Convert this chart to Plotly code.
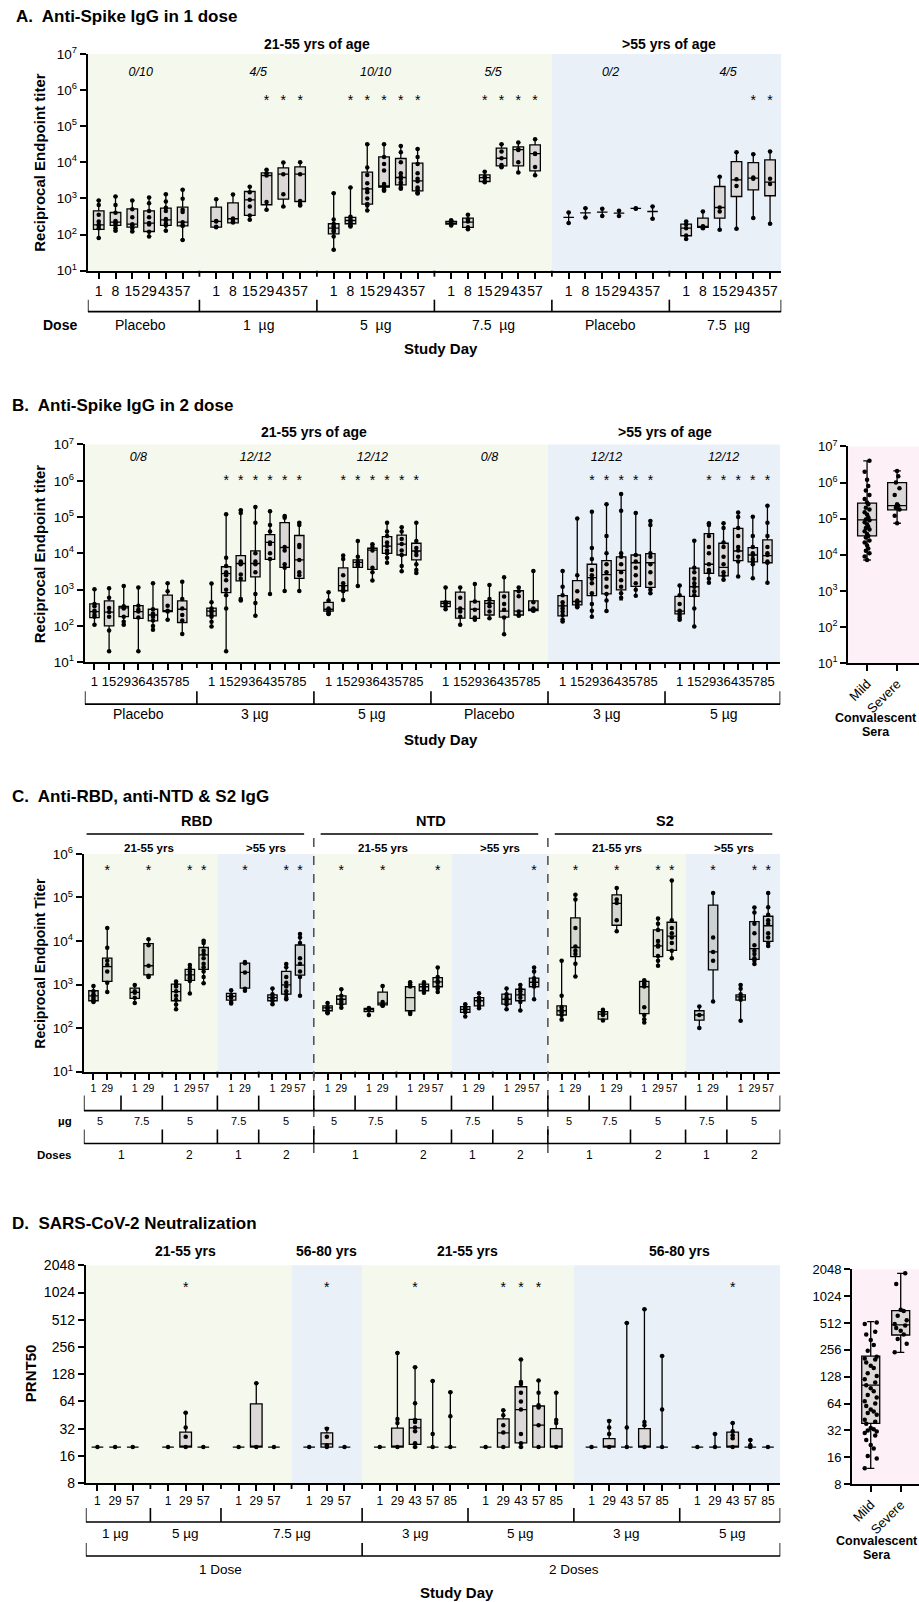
import math
import plotly.graph_objects as go

W, H = 919, 1602
FONT = "Liberation Sans, Arial, Helvetica, sans-serif"
GREEN = "#f5f8ec"
BLUE = "#eaf0f8"
PINK = "#fdf0f6"
BOX_FILL = "#dcd8d8"
BOX_FILL_C = "rgba(120,120,108,0.26)"
LOD = 20

# ======================= DATA =======================
# ---- Panel A: Anti-Spike IgG, 1 dose ----
A_days = ["1", "8", "15", "29", "43", "57"]
A_doses = ["Placebo", "1  µg", "5  µg", "7.5  µg", "Placebo", "7.5  µg"]
A_ratio = ["0/10", "4/5", "10/10", "5/5", "0/2", "4/5"]
A_ages = ["21-55 yrs of age", ">55 yrs of age"]
A_min = [80, 128, 122, 89, 128, 71,
         161, 212, 257, 486, 590, 640,
         38, 168, 466, 1630, 1850, 1375,
         179, 139, 2770, 7350, 5240, 4410,
         208, 299, 330, 330, 518, 275,
         75, 145, 136, 145, 286, 200]
A_q1 = [139, 179, 161, 122, 179, 175,
        161, 212, 340, 670, 955, 826,
        105, 200, 697, 2060, 2390, 1630,
        195, 158, 2950, 8000, 8000, 5820,
        300, 400, 420, 395, 530, 436,
        93, 158, 286, 1135, 1740, 1190]
A_med = [187, 222, 195, 208, 257, 222,
         231, 275, 920, 4330, 4710, 4700,
         151, 246, 1850, 2240, 3810, 3080,
         208, 222, 3800, 13000, 22600, 17500,
         300, 400, 420, 395, 530, 436,
         151, 168, 563, 3280, 3650, 2830]
A_q3 = [456, 410, 518, 456, 540, 575,
        575, 760, 1560, 5100, 7050, 7500,
        200, 299, 5350, 14200, 12800, 9480,
        231, 286, 4510, 24700, 26900, 30500,
        300, 400, 420, 395, 530, 436,
        195, 286, 2150, 10500, 9900, 11700]
A_max = [880, 1135, 880, 1067, 1318, 1740,
         955, 1290, 2100, 6200, 9900, 10000,
         1400, 2000, 31800, 31800, 28600, 23600,
         251, 355, 5570, 31800, 35400, 43700,
         410, 540, 518, 456, 540, 603,
         231, 436, 4000, 19000, 16800, 20000]
A_pts = [
    [80, 150, 180, 187, 230, 355, 660, 880], [128, 150, 180, 200, 220, 240, 400, 660, 1135],
    [122, 150, 180, 195, 300, 500, 880], [89, 120, 190, 208, 300, 450, 740, 1067],
    [128, 180, 200, 250, 270, 450, 550, 826, 1318], [71, 175, 180, 220, 420, 486, 980, 1740],
    [160, 165, 231, 240, 955], [215, 230, 260, 280, 1290], [257, 340, 600, 920, 1500, 2100],
    [486, 800, 4300, 5000, 6200], [600, 1300, 4700, 9900], [640, 700, 850, 4700, 10000],
    [38, 89, 120, 130, 150, 170, 200, 260, 1400], [168, 180, 200, 210, 240, 250, 290, 310, 2000],
    [466, 640, 700, 1000, 1500, 1800, 2650, 4500, 7190, 31800],
    [1630, 1800, 2100, 2300, 2500, 6000, 9000, 14000, 31800],
    [1850, 2000, 2500, 2800, 3500, 4000, 5000, 10000, 19000, 28600],
    [1375, 1500, 1800, 2000, 3000, 3500, 5000, 9000, 14000, 23600],
    [180, 200, 210, 230, 250], [140, 160, 230, 260, 355], [2800, 3000, 3700, 4000, 5500],
    [7350, 8500, 13000, 20000, 31800], [5240, 10100, 22000, 23000, 35400], [4410, 7500, 17000, 17500, 43700],
    [208, 410], [299, 540], [330, 518], [330, 456], [518, 540], [275, 603],
    [75, 95, 150, 190, 231], [150, 160, 165, 170, 436], [136, 436, 563, 4000],
    [145, 2200, 3400, 19000], [286, 3500, 3800, 16800], [200, 2500, 3500, 20000]]
A_star = [0, 0, 0, 0, 0, 0,
          0, 0, 0, 1, 1, 1,
          0, 1, 1, 1, 1, 1,
          0, 0, 1, 1, 1, 1,
          0, 0, 0, 0, 0, 0,
          0, 0, 0, 0, 1, 1]

# ---- Panel B: Anti-Spike IgG, 2 doses ----
B_days = ["1", "15", "29", "36", "43", "57", "85"]
B_doses = ["Placebo", "3 µg", "5 µg", "Placebo", "3 µg", "5 µg"]
B_ratio = ["0/8", "12/12", "12/12", "0/8", "12/12", "12/12"]
B_ages = ["21-55 yrs of age", ">55 yrs of age"]
B_min = [107, 20, 107, 20, 78, 148, 60,
         96, 20, 500, 190, 760, 920, 920,
         214, 520, 1260, 1780, 5500, 3200, 2850,
         290, 107, 148, 162, 59, 190, 246,
         132, 326, 180, 257, 525, 680, 790,
         148, 96, 1540, 1860, 2300, 2050, 1540]
B_q1 = [170, 100, 181, 162, 138, 246, 124,
        190, 830, 1740, 2240, 6800, 4100, 2050,
        257, 930, 4100, 3630, 10000, 9000, 6600,
        340, 163, 162, 200, 174, 200, 263,
        190, 380, 680, 760, 980, 1230, 1150,
        214, 650, 2800, 2400, 6300, 5800, 5500]
B_med = [246, 240, 316, 246, 200, 257, 288,
         257, 2750, 5250, 5250, 20000, 14500, 6600,
         288, 1290, 5630, 12300, 15800, 18000, 11600,
         420, 294, 288, 420, 257, 257, 288,
         357, 470, 2140, 2600, 3400, 5500, 5500,
         257, 1200, 5000, 4100, 11600, 9000, 8700]
B_q3 = [407, 490, 347, 363, 288, 707, 490,
        309, 4270, 8700, 11700, 33000, 70000, 31000,
        445, 4000, 6600, 13800, 28800, 31900, 19000,
        470, 850, 470, 500, 850, 930, 490,
        680, 1780, 5000, 6300, 8000, 9000, 9800,
        650, 3890, 35000, 19000, 49000, 14400, 23500]
B_max = [1020, 1090, 1260, 1150, 1510, 1510, 1660,
         1470, 120000, 155000, 190000, 145000, 107000, 70000,
         850, 8700, 21800, 17800, 70000, 52000, 70000,
         1150, 1150, 1440, 1350, 2200, 1150, 3250,
         3250, 91000, 141000, 224000, 430000, 130000, 78000,
         1290, 22400, 67000, 67000, 134000, 102000, 205000]
B_pts = [
    [107, 180, 200, 240, 260, 350, 400, 1020], [20, 75, 180, 240, 310, 600, 1090],
    [107, 130, 180, 300, 320, 350, 1260], [20, 170, 250, 280, 360, 1150],
    [78, 100, 140, 180, 220, 290, 1510], [148, 250, 260, 360, 900, 1510], [60, 140, 200, 300, 550, 1660],
    [96, 130, 180, 200, 240, 260, 300, 450, 1470], [20, 300, 700, 1000, 1800, 2500, 3000, 4500, 7500, 120000],
    [500, 550, 2000, 2600, 5000, 5500, 6000, 130000, 155000], [190, 430, 760, 3000, 5000, 6000, 10000, 70000, 190000],
    [760, 7000, 10000, 18000, 20000, 40000, 60000, 145000], [920, 4000, 5000, 12000, 15000, 95000, 107000],
    [920, 2500, 3000, 6600, 15000, 17000, 60000, 70000],
    [214, 220, 240, 260, 280, 300, 500, 850], [520, 900, 1000, 1200, 1500, 2500, 7000, 8700],
    [1260, 4500, 5000, 6000, 8000, 21800], [1780, 3000, 4000, 12000, 15000, 17800],
    [5500, 7500, 10000, 12000, 16000, 20000, 30000, 40000, 70000], [3200, 4500, 9000, 12000, 18000, 25000, 40000, 52000],
    [2850, 3500, 5000, 9000, 11000, 14000, 22000, 70000],
    [290, 350, 400, 450, 1150], [107, 180, 250, 300, 600, 1150], [148, 160, 170, 280, 470, 1440],
    [162, 250, 350, 420, 550, 1350], [59, 170, 280, 400, 650, 2200], [190, 200, 250, 660, 900, 1150],
    [260, 280, 300, 450, 3250],
    [132, 150, 200, 250, 300, 360, 450, 700, 1200, 3250], [326, 350, 400, 450, 500, 900, 2500, 91000],
    [180, 260, 400, 800, 1500, 2000, 2500, 3500, 7000, 14000, 141000],
    [257, 500, 760, 1200, 2000, 3000, 5000, 10000, 30000, 224000],
    [600, 800, 1200, 1800, 3000, 5000, 8000, 10000, 150000, 430000],
    [680, 1000, 1500, 2500, 4000, 6000, 9000, 130000], [790, 1000, 1500, 3000, 5000, 8000, 10000, 60000, 78000],
    [148, 170, 200, 240, 260, 400, 700, 1290], [96, 300, 700, 900, 1200, 1500, 2000, 3000, 4000, 22400],
    [1540, 2000, 3000, 3500, 5000, 10000, 15000, 30000, 60000, 67000],
    [1860, 2400, 3000, 5000, 8000, 15000, 20000, 50000, 67000],
    [2300, 6000, 8000, 12000, 15000, 30000, 50000, 100000, 134000],
    [2050, 5000, 6000, 7000, 9000, 10000, 15000, 30000, 102000],
    [1540, 5500, 6000, 9000, 10000, 15000, 30000, 70000, 205000]]
B_star = [0, 0, 0, 0, 0, 0, 0,
          0, 1, 1, 1, 1, 1, 1,
          0, 1, 1, 1, 1, 1, 1,
          0, 0, 0, 0, 0, 0, 0,
          0, 0, 1, 1, 1, 1, 1,
          0, 0, 1, 1, 1, 1, 1]

# convalescent sera (IgG)
BC_cats = ["Mild", "Severe"]
BC_min = [7200, 75000]
BC_q1 = [33500, 176000]
BC_med = [93000, 230000]
BC_q3 = [270000, 1000000]
BC_max = [4000000, 2100000]
BC_pts = [[7200, 9000, 11000, 13000, 15000, 18000, 22000, 25000, 30000, 33000, 38000, 45000, 50000,
           55000, 60000, 70000, 80000, 90000, 95000, 110000, 130000, 150000, 180000, 200000, 250000,
           280000, 350000, 450000, 600000, 800000, 1200000, 2000000, 4000000],
          [75000, 120000, 180000, 200000, 230000, 250000, 450000, 700000, 1000000, 1500000, 2100000]]

# ---- Panel C: Anti-RBD, anti-NTD & S2 IgG ----
C_sections = ["RBD", "NTD", "S2"]
C_days = [["1", "29"], ["1", "29"], ["1", "29", "57"], ["1", "29"], ["1", "29", "57"]] * 3
C_ug = ["5", "7.5", "5", "7.5", "5"] * 3
C_ages = ["21-55 yrs", ">55 yrs"] * 3
C_doses = ["1", "2", "1", "2"] * 3
C_min = [400, 670, 375, 1510, 270, 620, 1070, 365, 720, 355, 460, 550,
         220, 295, 200, 325, 210, 630, 670, 185, 285, 270, 255, 460,
         147, 1540, 147, 16700, 135, 2700, 3980, 100, 410, 147, 2950, 7700]
C_q1 = [425, 1180, 480, 1660, 425, 1250, 2240, 440, 830, 425, 600, 1650,
        250, 355, 240, 340, 250, 720, 890, 230, 325, 355, 425, 890,
        200, 4360, 160, 23000, 215, 4360, 6100, 152, 2180, 440, 3800, 9800]
C_med = [550, 2570, 660, 2700, 690, 1660, 4800, 535, 1900, 500, 980, 2800,
         290, 460, 265, 375, 500, 890, 1150, 270, 425, 460, 580, 1130,
         250, 7100, 210, 73000, 890, 7750, 12900, 200, 5630, 520, 6700, 22400]
C_q3 = [720, 4060, 830, 8700, 1020, 2240, 7100, 630, 3100, 580, 2000, 8100,
        325, 550, 285, 670, 890, 1020, 1440, 310, 500, 600, 780, 1400,
        325, 34000, 240, 115000, 1180, 18000, 27000, 250, 67000, 580, 28000, 37000]
C_max = [930, 20000, 980, 11000, 1180, 2800, 10200, 740, 3300, 810, 2950, 14400,
         375, 780, 290, 930, 1130, 1130, 2470, 355, 630, 810, 980, 2470,
         3530, 115000, 265, 165000, 1250, 33000, 245000, 315, 126000, 980, 59000, 126000]
C_pts = [
    [400, 420, 450, 500, 550, 600, 700, 930], [670, 1100, 2000, 2800, 3500, 7000, 20000],
    [375, 500, 650, 700, 980], [1500, 1600, 2700, 8000, 11000],
    [270, 350, 450, 550, 700, 900, 1000, 1180], [620, 1200, 1400, 1500, 1700, 2000, 2400, 2800],
    [1070, 1500, 2000, 2500, 3000, 4000, 5000, 6000, 9000, 10200],
    [365, 400, 500, 550, 740], [720, 800, 1900, 3100, 3300],
    [355, 420, 480, 520, 600, 810], [460, 500, 600, 700, 900, 1100, 1500, 2500, 2950],
    [550, 1500, 2000, 3000, 4000, 9000, 12000, 14400],
    [220, 230, 250, 280, 300, 375], [295, 350, 400, 450, 550, 780],
    [200, 260, 270, 290], [325, 330, 350, 400, 930],
    [210, 230, 900, 1000, 1130], [650, 750, 850, 900, 1000, 1130], [670, 800, 900, 1100, 1200, 1500, 2470],
    [185, 230, 250, 280, 300, 355], [285, 330, 400, 450, 500, 630],
    [270, 350, 400, 450, 500, 600, 810], [255, 400, 500, 600, 700, 800, 980], [460, 900, 1000, 1200, 1400, 2000, 2470],
    [160, 200, 230, 260, 300, 550, 3530], [1540, 3000, 5000, 6000, 7500, 20000, 90000, 115000],
    [150, 200, 230, 265], [16700, 30000, 75000, 90000, 165000],
    [135, 160, 200, 300, 900, 1000, 1100, 1250], [2700, 3500, 4500, 7500, 8000, 10000, 18000, 25000, 33000],
    [4000, 6000, 9000, 12000, 15000, 20000, 30000, 245000],
    [100, 200, 315], [410, 3500, 5600, 12000, 126000],
    [147, 450, 500, 600, 800, 980], [2950, 3500, 4000, 5000, 6000, 8000, 15000, 25000, 45000, 59000],
    [7700, 9000, 12000, 15000, 25000, 30000, 40000, 60000, 126000]]
C_star = [0, 1, 0, 1, 0, 1, 1, 0, 1, 0, 1, 1,
          0, 1, 0, 1, 0, 0, 1, 0, 0, 0, 0, 1,
          0, 1, 0, 1, 0, 1, 1, 0, 1, 0, 1, 1]

# ---- Panel D: SARS-CoV-2 neutralization (PRNT50) ----
D_days = [["1", "29", "57"]] * 4 + [["1", "29", "43", "57", "85"]] * 4
D_ug = ["1 µg", "5 µg", "7.5 µg", "3 µg", "5 µg", "3 µg", "5 µg"]
D_ages = ["21-55 yrs", "56-80 yrs", "21-55 yrs", "56-80 yrs"]
D_doses = ["1 Dose", "2 Doses"]
D_min = [20] * 32
D_q1 = [20, 20, 20, 20, 20, 20, 20, 20, 20, 20, 20, 20,
        20, 20, 21.4, 20, 20, 20, 20, 22.3, 20, 20,
        20, 20, 20, 20, 20, 20, 20, 20, 20, 20]
D_med = [20, 20, 20, 20, 20, 20, 20, 20, 20, 20, 21.7, 20,
         20, 20, 32.7, 20, 20, 20, 28.8, 52, 35, 20,
         20, 20, 20, 20, 20, 20, 20, 20, 20, 20]
D_q3 = [20, 20, 20, 20, 29.3, 20, 20, 60, 20, 20, 28.8, 20,
        20, 32.4, 40.5, 20, 20, 20, 41, 93, 57, 32,
        20, 24.8, 20, 32, 20, 20, 20, 29.3, 20, 20]
D_max = [20, 20, 20, 20, 48, 20, 20, 102, 20, 20, 32.7, 20,
         20, 220, 153, 108, 81, 20, 51, 186, 109, 80,
         20, 39.5, 472, 668, 203, 20, 28, 36.8, 24, 20]
D_pts = [
    [20], [20], [20], [20], [20, 26, 33, 48], [20], [20], [20, 102], [20], [20], [20, 21, 26, 32], [20],
    [20], [20, 37, 41, 220], [20, 22, 30, 33, 38, 40, 61, 153], [20, 28, 108], [20, 44, 81],
    [20], [20, 29, 35, 45, 51], [20, 22, 28, 52, 64, 80, 100, 105, 186], [20, 35, 55, 58, 80, 109], [20, 37, 40, 80],
    [20], [20, 28, 33, 39], [20, 33, 472], [20, 35, 38, 668], [20, 52, 203],
    [20], [20, 28], [20, 25, 27, 30, 37], [20, 21, 24], [20]]
D_star = [0, 0, 0, 0, 1, 0, 0, 0, 0, 0, 1, 0,
          0, 0, 1, 0, 0, 0, 1, 1, 1, 0,
          0, 0, 0, 0, 0, 0, 0, 1, 0, 0]

DC_cats = ["Mild", "Severe"]
DC_min = [12, 240]
DC_q1 = [38.3, 376]
DC_med = [103, 488]
DC_q3 = [218, 704]
DC_max = [530, 1850]
DC_pts = [[12, 15.5, 16.5, 20, 22, 25, 28, 30, 31, 32, 33, 34, 38, 40, 42, 48, 50, 52, 55, 60, 64, 68,
           75, 80, 88, 95, 103, 110, 120, 130, 140, 160, 170, 185, 200, 205, 215, 250, 290, 330,
           380, 410, 500, 520],
          [240, 300, 340, 380, 420, 450, 480, 500, 550, 620, 700, 720, 1400, 1850]]

# ======================= HELPERS =======================
fig = go.Figure()
layout = dict(width=W, height=H, margin=dict(l=0, r=0, t=0, b=0), paper_bgcolor="white",
              plot_bgcolor="rgba(0,0,0,0)", showlegend=False, font=dict(family=FONT, color="black"))
shapes = []
annotations = []
TICKLEN = 6


def lkey(kind, n):
    return f"{kind}axis" if n == 1 else f"{kind}axis{n}"


def ref(kind, n):
    return kind if n == 1 else f"{kind}{n}"


def PY(y):
    # page-pixel (from top) -> paper fraction, compensating the page's vertical offset/scale
    t = y * 1618.0 / 1602.0 - 8.0
    return 1 - t / H


def ann(text, x, y, xref="paper", size=13, bold=False, italic=False, xanchor="center", angle=0):
    if bold:
        text = f"<b>{text}</b>"
    if italic:
        text = f"<i>{text}</i>"
    annotations.append(dict(text=text, x=(x / W if xref == "paper" else x), y=PY(y), xref=xref, yref="paper",
                            showarrow=False, font=dict(size=size, family=FONT, color="black"),
                            xanchor=xanchor, yanchor="middle", textangle=angle))


def make_slots(day_lists):
    slots, s = [], 0
    for d in day_lists:
        slots.append([s + i for i in range(len(d))])
        s += len(d) + 1
    return slots


def tick_arrays(day_lists, slots):
    vals, txt = [], []
    for d, sl in zip(day_lists, slots):
        vals += sl
        txt += d
    return vals, txt


def separators(slots):
    return [g[-1] + 1 for g in slots[:-1]]


def log_ticks(lo, hi):
    vals = [10 ** p for p in range(lo, hi + 1)]
    txt = [f"10<sup>{p}</sup>" for p in range(lo, hi + 1)]
    return vals, txt


def setup_axes(n, xpx, ypx, xrange, tickvals, ticktext, xfont, yrange, ytickvals, yticktext,
               yfont=13.5, xtickangle=0):
    common = dict(ticks="outside", ticklen=TICKLEN, tickwidth=1.8, tickcolor="black", showline=True,
                  linecolor="black", linewidth=2, showgrid=False, zeroline=False, fixedrange=True)
    layout[lkey("x", n)] = dict(domain=[xpx[0] / W, xpx[1] / W], range=xrange, anchor=ref("y", n),
                                tickmode="array", tickvals=tickvals, ticktext=ticktext, tickangle=xtickangle,
                                tickfont=dict(size=xfont, family=FONT, color="black"), **common)
    layout[lkey("y", n)] = dict(domain=[PY(ypx[1]), PY(ypx[0])], type="log", range=yrange,
                                anchor=ref("x", n), tickmode="array", tickvals=ytickvals, ticktext=yticktext,
                                tickfont=dict(size=yfont, family=FONT, color="black"), **common)


def sep_ticks(n, slots, ybottom):
    for s in separators(slots):
        shapes.append(dict(type="line", xref=ref("x", n), yref="paper", x0=s, x1=s,
                           y0=PY(ybottom), y1=PY(ybottom) - TICKLEN / H,
                           line=dict(color="black", width=1.8)))


def add_boxes(n, xs, mn, q1, md, q3, mx, width, ww=0.4, fill=BOX_FILL):
    fig.add_trace(go.Box(x=xs, q1=q1, median=md, q3=q3, lowerfence=mn, upperfence=mx, width=width,
                         whiskerwidth=ww, fillcolor=fill, line=dict(color="black", width=1.3),
                         xaxis=ref("x", n), yaxis=ref("y", n), hoverinfo="skip", showlegend=False))


def add_points(n, xs, pts, offsets=(0,), size=4.5):
    X, Y = [], []
    for x, p in zip(xs, pts):
        for j, v in enumerate(p):
            X.append(x + offsets[j % len(offsets)])
            Y.append(v)
    fig.add_trace(go.Scatter(x=X, y=Y, mode="markers", marker=dict(size=size, color="black"),
                             xaxis=ref("x", n), yaxis=ref("y", n), hoverinfo="skip", showlegend=False,
                             cliponaxis=False))


def add_text(n, xs, ys, texts, size):
    fig.add_trace(go.Scatter(x=xs, y=ys, mode="text", text=texts, textposition="middle center",
                             textfont=dict(size=size, family=FONT, color="black"),
                             xaxis=ref("x", n), yaxis=ref("y", n), hoverinfo="skip", showlegend=False,
                             cliponaxis=False))


def hline(n, x0, x1, y, width=1.6, color="black", dash=None):
    shapes.append(dict(type="line", xref=ref("x", n), yref="paper", x0=x0, x1=x1, y0=PY(y), y1=PY(y),
                       line=dict(color=color, width=width, dash=dash)))


def vline(n, x, ya, yb, width=1.6, color="black", dash=None):
    shapes.append(dict(type="line", xref=ref("x", n), yref="paper", x0=x, x1=x, y0=PY(ya), y1=PY(yb),
                       line=dict(color=color, width=width, dash=dash)))


def span_edges(slots, span, xrange):
    first = slots[span[0]][0]
    last = slots[span[-1]][-1]
    left = first - 1 if span[0] > 0 else xrange[0]
    right = last + 1 if span[-1] < len(slots) - 1 else xrange[1]
    return first, last, left, right


def bracket_row(n, slots, spans, labels, xrange, y_line, y_tick, y_label, size):
    hline(n, xrange[0], xrange[1], y_line)
    edges = set()
    for span, lab in zip(spans, labels):
        first, last, left, right = span_edges(slots, span, xrange)
        edges.update([left, right])
        ann(lab, (first + last) / 2, y_label, xref=ref("x", n), size=size)
    for e in edges:
        vline(n, e, y_tick, y_line)


def backgrounds(n, slots, spans, colors, xrange):
    for span, col in zip(spans, colors):
        _, _, left, right = span_edges(slots, span, xrange)
        shapes.append(dict(type="rect", xref=ref("x", n), yref=f"{ref('y', n)} domain", x0=left, x1=right,
                           y0=0, y1=1, fillcolor=col, line=dict(width=0), layer="below"))


def headers(n, slots, spans, labels, y, size):
    for span, lab in zip(spans, labels):
        first, last, _, _ = span_edges(slots, span, (0, 0))
        ann(lab, (first + last) / 2, y, xref=ref("x", n), size=size, bold=True)


def flat(slots):
    return [s for g in slots for s in g]


def lod_line(n, xrange, color="#a9a9a9", dash="dash", width=1.4):
    shapes.append(dict(type="line", xref=ref("x", n), yref=ref("y", n), x0=xrange[0], x1=xrange[1],
                       y0=math.log10(LOD), y1=math.log10(LOD), line=dict(color=color, width=width, dash=dash),
                       layer="above"))


# ======================= PANEL A =======================
nA = 1
A_daylists = [A_days] * len(A_doses)
A_slots = make_slots(A_daylists)
A_xr = [-0.65, 40.67]
tv, tt = tick_arrays(A_daylists, A_slots)
yv, yt = log_ticks(1, 7)
setup_axes(nA, (86, 781), (52, 269), A_xr, tv, tt, 14, [1, 7], yv, yt)
sep_ticks(nA, A_slots, 269)
backgrounds(nA, A_slots, [[0, 1, 2, 3], [4, 5]], [GREEN, BLUE], A_xr)
lod_line(nA, A_xr)
xsA = flat(A_slots)
add_boxes(nA, xsA, A_min, A_q1, A_med, A_q3, A_max, 0.63)
add_points(nA, xsA, A_pts)
add_text(nA, [(g[0] + g[-1]) / 2 for g in A_slots], [3.0e6] * 6, [f"<i>{r}</i>" for r in A_ratio], 12.5)
add_text(nA, [x for x, s in zip(xsA, A_star) if s], [5.0e5] * sum(A_star), ["*"] * sum(A_star), 14)
ann("A.  Anti-Spike IgG in 1 dose", 12, 14, size=17, bold=True, xanchor="left")
headers(nA, A_slots, [[0, 1, 2, 3], [4, 5]], A_ages, 42, 14)
ann("Reciprocal Endpoint titer", 38, 160, size=15, bold=True, angle=-90)
bracket_row(nA, A_slots, [[i] for i in range(6)], A_doses, A_xr, 310, 298, 323, 14)
ann("Dose", 77, 323, size=14, bold=True, xanchor="right")
ann("Study Day", 440, 347, size=15, bold=True)

# ======================= PANEL B =======================
nB = 2
B_daylists = [B_days] * len(B_doses)
B_slots = make_slots(B_daylists)
B_xr = [-0.66, 46.88]
tv, tt = tick_arrays(B_daylists, B_slots)
setup_axes(nB, (83, 780), (443, 661), B_xr, tv, tt, 13, [1, 7], yv, yt)
sep_ticks(nB, B_slots, 661)
backgrounds(nB, B_slots, [[0, 1, 2, 3], [4, 5]], [GREEN, BLUE], B_xr)
lod_line(nB, B_xr)
xsB = flat(B_slots)
add_boxes(nB, xsB, B_min, B_q1, B_med, B_q3, B_max, 0.64)
add_points(nB, xsB, B_pts)
add_text(nB, [(g[0] + g[-1]) / 2 for g in B_slots], [4.2e6] * 6, [f"<i>{r}</i>" for r in B_ratio], 12.5)
add_text(nB, [x for x, s in zip(xsB, B_star) if s], [9.6e5] * sum(B_star), ["*"] * sum(B_star), 14)
ann("B.  Anti-Spike IgG in 2 dose", 8, 404, size=17, bold=True, xanchor="left")
headers(nB, B_slots, [[0, 1, 2, 3], [4, 5]], B_ages, 430, 14)
ann("Reciprocal Endpoint titer", 37, 552, size=15, bold=True, angle=-90)
bracket_row(nB, B_slots, [[i] for i in range(6)], B_doses, B_xr, 703, 690, 713, 14)
ann("Study Day", 440, 738, size=15, bold=True)

# convalescent (B)
nBC = 3
BC_xr = [-0.63, 1.73]
setup_axes(nBC, (848, 919), (445, 662), BC_xr, [0, 1], BC_cats, 13, [1, 7], yv, yt, yfont=13,
           xtickangle=-45)
shapes.append(dict(type="rect", xref="x3", yref="y3 domain", x0=BC_xr[0], x1=BC_xr[1], y0=0, y1=1,
                   fillcolor=PINK, line=dict(width=0), layer="below"))
lod_line(nBC, BC_xr, color="#b8a0b0", dash="dot", width=1.3)
add_boxes(nBC, [0, 1], BC_min, BC_q1, BC_med, BC_q3, BC_max, 0.63)
add_points(nBC, [0, 1], BC_pts, offsets=(0, -0.08, 0.08, -0.04, 0.04))
ann("Convalescent", 876, 717, size=12.5, bold=True)
ann("Sera", 876, 731, size=12.5, bold=True)

# ======================= PANEL C =======================
nC = 4
C_slots = make_slots(C_days)
C_xr = [-0.70, 49.88]
tv, tt = tick_arrays(C_days, C_slots)
yvC, ytC = log_ticks(1, 6)
setup_axes(nC, (82, 780), (853, 1071), C_xr, tv, tt, 10.5, [1, 6], yvC, ytC)
sep_ticks(nC, C_slots, 1071)
C_bg_spans = [[0, 1, 2], [3, 4], [5, 6, 7], [8, 9], [10, 11, 12], [13, 14]]
backgrounds(nC, C_slots, C_bg_spans, [GREEN, BLUE] * 3, C_xr)
lod_line(nC, C_xr)
xsC = flat(C_slots)
add_boxes(nC, xsC, C_min, C_q1, C_med, C_q3, C_max, 0.68, fill=BOX_FILL_C)
add_points(nC, xsC, C_pts)
add_text(nC, [x for x, s in zip(xsC, C_star) if s], [4.0e5] * sum(C_star), ["*"] * sum(C_star), 14)
ann("C.  Anti-RBD, anti-NTD & S2 IgG", 8, 795, size=17, bold=True, xanchor="left")
for k, sec in enumerate(C_sections):
    first = C_slots[5 * k][0]
    last = C_slots[5 * k + 4][-1]
    ann(sec, (first + last) / 2, 820, xref="x4", size=14.5, bold=True)
    hline(nC, first - 0.5, last + 0.3, 833, width=1.6)
headers(nC, C_slots, C_bg_spans, C_ages, 847, 11.5)
for k in range(1, 3):
    sep = C_slots[5 * k][0] - 1
    vline(nC, sep, 837, 1153, width=1.6, color="#555555", dash="dash")
ann("Reciprocal Endpoint Titer", 38, 962, size=14, bold=True, angle=-90)
bracket_row(nC, C_slots, [[i] for i in range(15)], C_ug, C_xr, 1110, 1095, 1120, 11)
C_dose_spans = []
for k in range(3):
    b = 5 * k
    C_dose_spans += [[b, b + 1], [b + 2], [b + 3], [b + 4]]
bracket_row(nC, C_slots, C_dose_spans, C_doses, C_xr, 1143, 1129, 1154, 12)
ann("µg", 72, 1120, size=11.5, bold=True, xanchor="right")
ann("Doses", 72, 1154, size=11.5, bold=True, xanchor="right")

# ======================= PANEL D =======================
nD = 5
D_slots = make_slots(D_days)
D_xr = [-0.66, 38.7]
tv, tt = tick_arrays(D_days, D_slots)
yvD = [8, 16, 32, 64, 128, 256, 512, 1024, 2048]
ytD = [str(v) for v in yvD]
D_yr = [math.log10(8), math.log10(2048)]
setup_axes(nD, (84, 780), (1265, 1483), D_xr, tv, tt, 12, D_yr, yvD, ytD, yfont=14)
sep_ticks(nD, D_slots, 1483)
D_bg_spans = [[0, 1, 2], [3], [4, 5], [6, 7]]
backgrounds(nD, D_slots, D_bg_spans, [GREEN, BLUE, GREEN, BLUE], D_xr)
lod_line(nD, D_xr)
xsD = flat(D_slots)
add_boxes(nD, xsD, D_min, D_q1, D_med, D_q3, D_max, 0.66)
add_points(nD, xsD, D_pts)
add_text(nD, [x for x, s in zip(xsD, D_star) if s], [1150] * sum(D_star), ["*"] * sum(D_star), 14)
ann("D.  SARS-CoV-2 Neutralization", 8, 1223, size=17, bold=True, xanchor="left")
headers(nD, D_slots, D_bg_spans, D_ages, 1251, 14)
ann("PRNT50", 28, 1373, size=15, bold=True, angle=-90)
bracket_row(nD, D_slots, [[0], [1], [2, 3], [4], [5], [6], [7]], D_ug, D_xr, 1522, 1508, 1533, 13.5)
bracket_row(nD, D_slots, [[0, 1, 2, 3], [4, 5, 6, 7]], D_doses, D_xr, 1556, 1543, 1570, 13.5)
ann("Study Day", 456, 1593, size=15, bold=True)

# convalescent (D)
nDC = 6
DC_xr = [-0.62, 1.61]
setup_axes(nDC, (852, 919), (1269, 1484), DC_xr, [0, 1], DC_cats, 13, D_yr, yvD, ytD, yfont=13,
           xtickangle=-45)
shapes.append(dict(type="rect", xref="x6", yref="y6 domain", x0=DC_xr[0], x1=DC_xr[1], y0=0, y1=1,
                   fillcolor=PINK, line=dict(width=0), layer="below"))
add_boxes(nDC, [0, 1], DC_min, DC_q1, DC_med, DC_q3, DC_max, 0.6)
add_points(nDC, [0, 1], DC_pts, offsets=(-0.2, 0.2, -0.1, 0.1, 0.0, -0.15, 0.15))
ann("Convalescent", 877, 1541, size=12.5, bold=True)
ann("Sera", 877, 1555, size=12.5, bold=True)

layout["shapes"] = shapes
layout["annotations"] = annotations
fig.update_layout(**layout)
fig.write_html("out.html")
